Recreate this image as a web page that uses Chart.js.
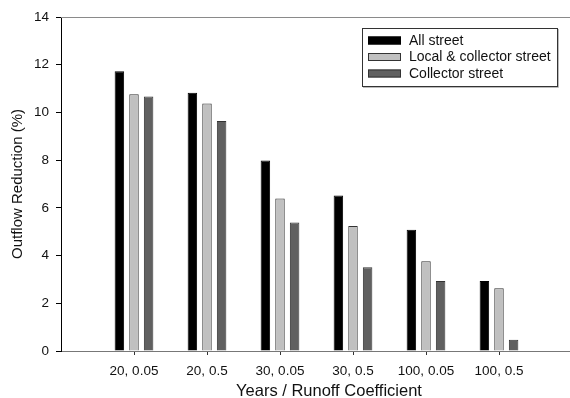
<!DOCTYPE html>
<html>
<head>
<meta charset="utf-8">
<script src="https://cdn.jsdelivr.net/npm/chart.js@4"></script>
<style>
  html, body { margin: 0; padding: 0; background: #fff; overflow: hidden; }
  #wrap { width: 572px; height: 398px; }
</style>
</head>
<body>
<div id="wrap"><canvas id="chart"></canvas></div>
<script>
// scenario groups (return period, runoff coefficient)
const categories = ['20, 0.05', '20, 0.5', '30, 0.05', '30, 0.5', '100, 0.05', '100, 0.5'];
const allStreet = [11.73, 10.83, 7.98, 6.52, 5.08, 2.93];
const localCollector = [10.76, 10.37, 6.39, 5.24, 3.76, 2.63];
const collectorOnly = [10.67, 9.64, 5.39, 3.51, 2.93, 0.47];
const yTicks = [0, 2, 4, 6, 8, 10, 12, 14];
const xTitle = 'Years / Runoff Coefficient';

const FONT = "'Liberation Sans', Arial, sans-serif";

function toPoints(vals) {
  return vals.map((v, i) => ({ x: i + 1, y: v }));
}

// grey frame line on top, x title, boxed legend in the upper right
const extras = {
  id: 'extras',
  afterDraw(chart) {
    const c = chart.ctx;
    const area = chart.chartArea;
    c.save();
    c.strokeStyle = '#8a8a8a';
    c.lineWidth = 1;
    c.beginPath();
    c.moveTo(area.left, area.top + 0.5);
    c.lineTo(area.right, area.top + 0.5);
    c.stroke();

    c.fillStyle = '#111';
    c.font = '16.5px ' + FONT;
    c.textAlign = 'center';
    c.textBaseline = 'alphabetic';
    c.fillText(xTitle, 329, 395.5);

    const bx = 362, by = 28, bw = 195, bh = 58;
    c.strokeStyle = '#bbb';
    c.beginPath();
    c.moveTo(bx + 1, by + bh + 1.5);
    c.lineTo(bx + bw + 1.5, by + bh + 1.5);
    c.lineTo(bx + bw + 1.5, by + 1);
    c.stroke();
    c.strokeStyle = '#333';
    c.strokeRect(bx + 0.5, by + 0.5, bw, bh);

    c.font = '14px ' + FONT;
    c.textAlign = 'left';
    c.textBaseline = 'middle';
    chart.data.datasets.forEach((ds, i) => {
      const cy = 40.5 + i * 16.5;
      c.fillStyle = ds.backgroundColor;
      c.fillRect(368, cy - 4, 33, 8);
      c.strokeStyle = ds.borderColor;
      c.strokeRect(368.5, cy - 3.5, 32, 7);
      c.fillStyle = '#111';
      c.fillText(ds.label, 409, cy + 0.5);
    });
    c.restore();
  }
};

new Chart(document.getElementById('chart'), {
  type: 'bar',
  data: {
    datasets: [
      { label: 'All street', data: toPoints(allStreet), backgroundColor: '#000000', borderColor: '#000000', borderWidth: 1 },
      { label: 'Local & collector street', data: toPoints(localCollector), backgroundColor: '#c0c0c0', borderColor: '#333333', borderWidth: 1 },
      { label: 'Collector street', data: toPoints(collectorOnly), backgroundColor: '#606060', borderColor: '#333333', borderWidth: 1 }
    ]
  },
  plugins: [extras],
  options: {
    responsive: true,
    maintainAspectRatio: false,
    animation: false,
    categoryPercentage: 0.6,
    barPercentage: 0.65,
    layout: { padding: { top: 17, right: 0, bottom: 0, left: 0 } },
    plugins: { legend: { display: false }, tooltip: { enabled: false } },
    scales: {
      x: {
        type: 'linear',
        min: 0,
        max: 7,
        offset: false,
        afterBuildTicks: axis => { axis.ticks = categories.map((c, i) => ({ value: i + 1 })); },
        afterFit: axis => { axis.height = 47; },
        ticks: {
          autoSkip: false,
          maxRotation: 0,
          padding: 8,
          color: '#111',
          font: { family: FONT, size: 13.5 },
          callback: v => categories[v - 1] || ''
        },
        grid: { offset: false, drawOnChartArea: false, drawTicks: true, tickLength: 4, color: '#333' },
        border: { color: '#777' }
      },
      y: {
        min: 0,
        max: 14,
        afterBuildTicks: axis => { axis.ticks = yTicks.map(v => ({ value: v })); },
        afterFit: axis => { axis.width = 61; },
        ticks: {
          padding: 7,
          color: '#111',
          font: { family: FONT, size: 13.5 }
        },
        grid: { drawOnChartArea: false, drawTicks: true, tickLength: 5, color: '#000' },
        border: { color: '#000' },
        title: {
          display: true,
          text: 'Outflow Reduction (%)',
          color: '#111',
          font: { family: FONT, size: 15 },
          padding: { top: 9, bottom: 0 }
        }
      }
    }
  }
});
</script>
</body>
</html>
